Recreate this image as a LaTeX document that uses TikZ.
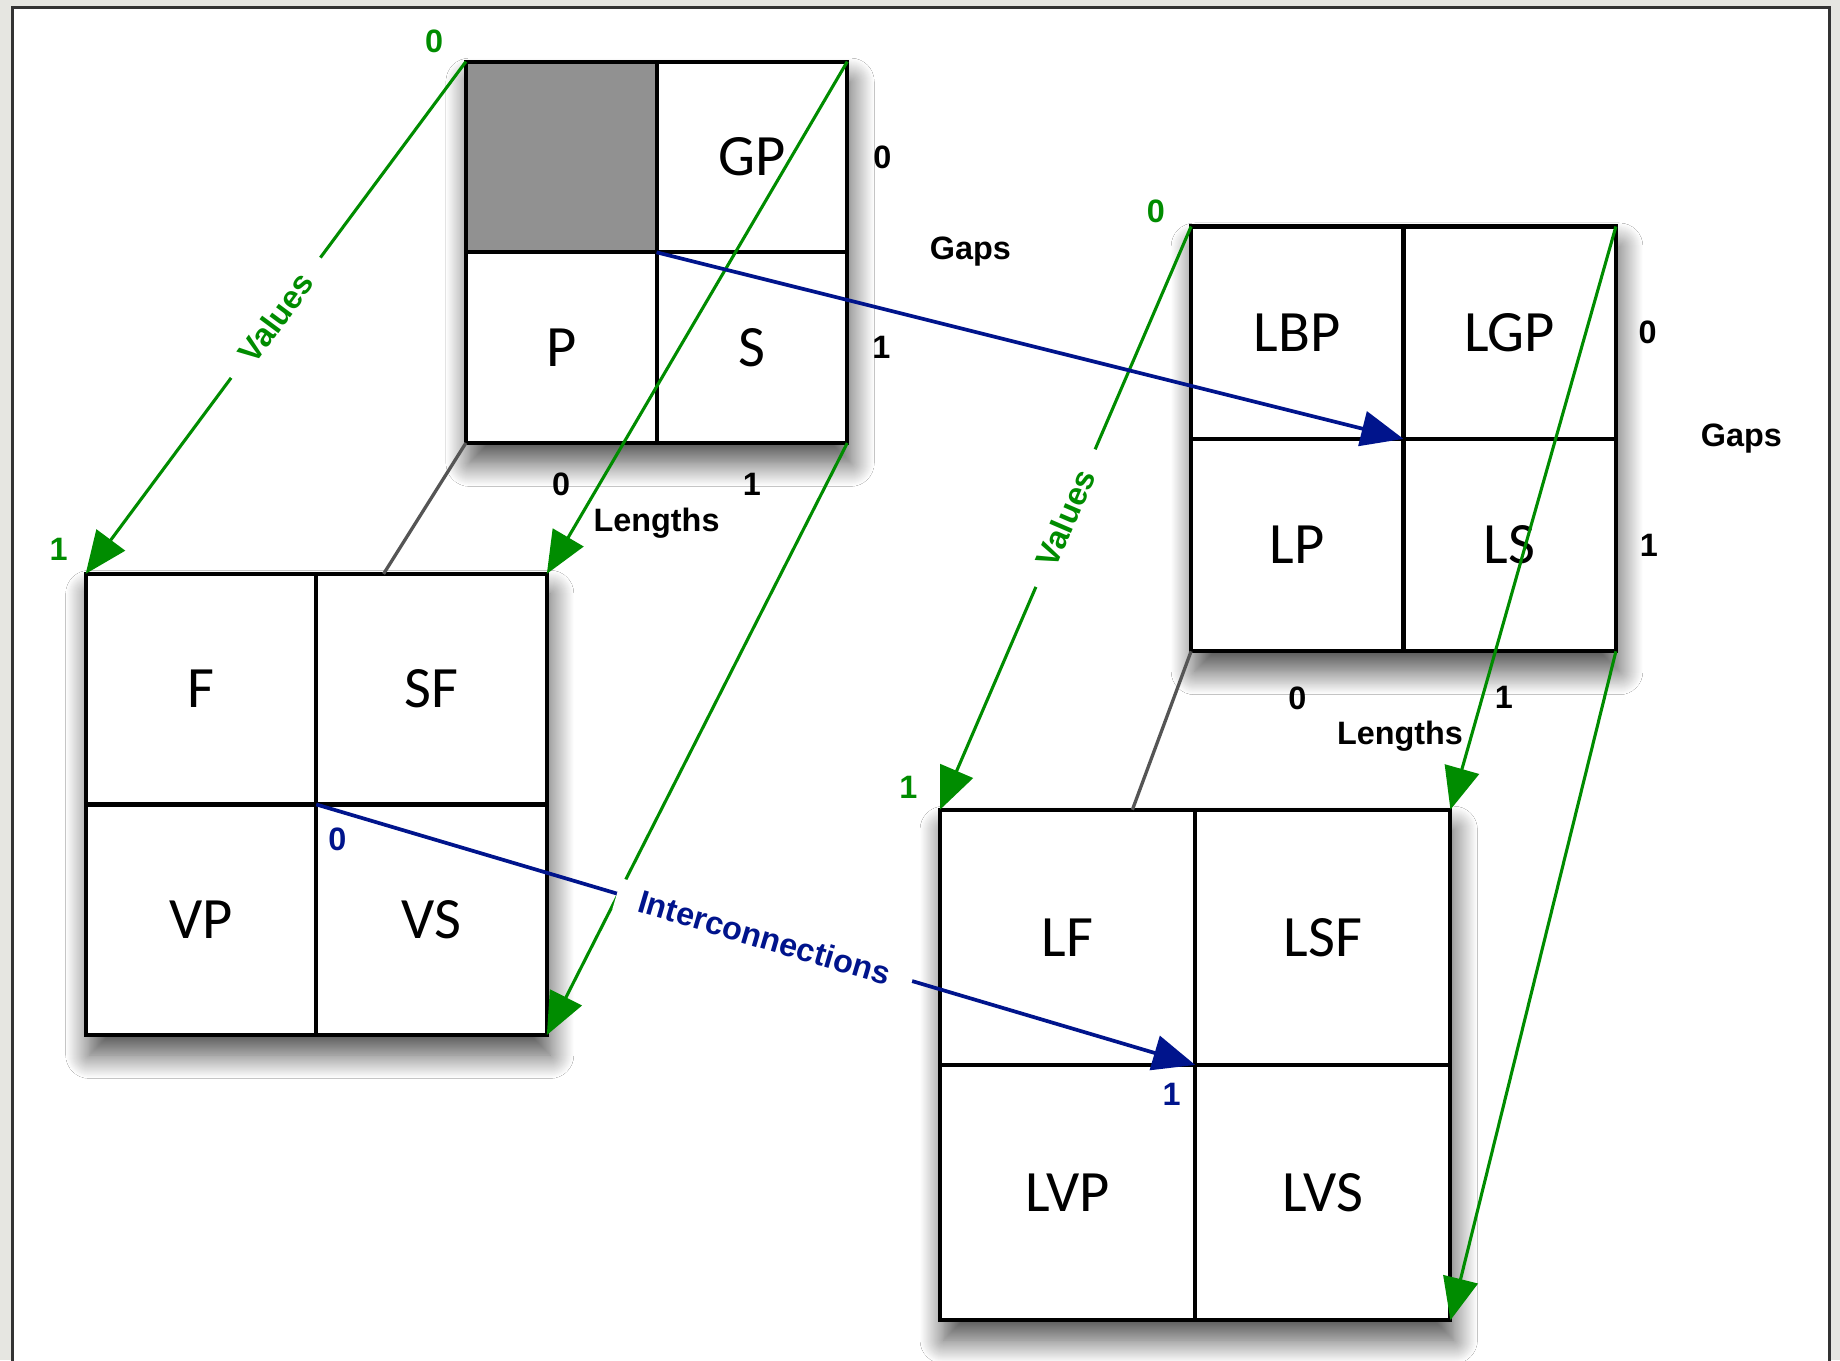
\documentclass[tikz,border=0pt]{standalone}
\usepackage{fontspec}
\setmainfont{Carlito}
\newfontfamily\tagfont{Liberation Sans}
\usetikzlibrary{
        arrows.meta,
        calc,
        positioning,
        shadows.blur
    }
\definecolor{valgreen}{RGB}{0,140,0}
\definecolor{conblue}{RGB}{0,20,140}
\definecolor{hidden}{RGB}{85,85,85}
\definecolor{paper}{RGB}{230,230,225}
\tikzset{>={Triangle[length=3.6mm,width=3mm]}}
\tikzset{
    block/.style={fill=white,inner sep=0pt,outer sep=0pt,
        blur shadow={shadow xshift=0.03cm,shadow yshift=-0.17cm,
            shadow blur radius=0.2cm,shadow blur steps=24,shadow opacity=70}},
    cell/.style={draw,line width=1pt,inner sep=0pt,outer sep=0pt,
        font=\fontsize{14.2}{16}\selectfont},
    tag/.style={font=\tagfont\bfseries\fontsize{7.85}{9}\selectfont,inner sep=1pt},
    val/.style={->,valgreen,line width=0.75pt},
    con/.style={->,conblue,line width=0.9pt},
    back/.style={hidden,line width=0.8pt},
    gaplabel/.style={tag,sloped,fill=white,inner xsep=0.2cm,inner ysep=1pt}
}

\begin{document}
\begin{tikzpicture}
            \useasboundingbox (0,0) rectangle (15.68,-11.59);
            \fill[paper] (0,0) rectangle (15.68,-11.59);
            \draw[fill=white,draw=black!80,line width=0.8pt] (0.105,-0.065) rectangle (15.59,-11.8);

            \node[block,minimum size=3.25cm] (A) at (5.595,-2.15) {};
            \node[cell,fill=black!43,minimum size=1.625cm,anchor=north west] (ab) at (A.north west) {};
            \node[cell,minimum size=1.625cm,right=0pt of ab] (agp) {GP};
            \node[cell,minimum size=1.625cm,below=0pt of ab] (ap) {P};
            \node[cell,minimum size=1.625cm,right=0pt of ap] (as) {S};

            \node[block,minimum size=3.93cm] (B) at (2.695,-6.855) {};
            \node[cell,minimum size=1.965cm,anchor=north west] (bf) at (B.north west) {F};
            \node[cell,minimum size=1.965cm,right=0pt of bf] (bsf) {SF};
            \node[cell,minimum size=1.965cm,below=0pt of bf] (bvp) {VP};
            \node[cell,minimum size=1.965cm,right=0pt of bvp] (bvs) {VS};

            \node[block,minimum size=3.62cm] (C) at (11.96,-3.74) {};
            \node[cell,minimum size=1.81cm,anchor=north west] (clbp) at (C.north west) {LBP};
            \node[cell,minimum size=1.81cm,right=0pt of clbp] (clgp) {LGP};
            \node[cell,minimum size=1.81cm,below=0pt of clbp] (clp) {LP};
            \node[cell,minimum size=1.81cm,right=0pt of clp] (cls) {LS};

            \node[block,minimum size=4.35cm] (D) at (10.185,-9.075) {};
            \node[cell,minimum size=2.175cm,anchor=north west] (dlf) at (D.north west) {LF};
            \node[cell,minimum size=2.175cm,right=0pt of dlf] (dlsf) {LSF};
            \node[cell,minimum size=2.175cm,below=0pt of dlf] (dlvp) {LVP};
            \node[cell,minimum size=2.175cm,right=0pt of dlvp] (dlvs) {LVS};

            \node[tag] (ag0) at ($(agp.east)+(0.3,0)$) {0};
            \node[tag] (ag1) at ($(as.east)+(0.29,0)$) {1};
            \node[tag] (al0) at ($(ap.south)+(0,-0.35)$) {0};
            \node[tag] (al1) at ($(as.south)+(0,-0.35)$) {1};
            \node[tag] (agaps) at ($(A.east)+(1.05,0.01)$) {Gaps};
            \node[tag] (alen) at ($(A.south)+(0,-0.68)$) {Lengths};

            \node[tag] (cg0) at ($(clgp.east)+(0.27,0)$) {0};
            \node[tag] (cg1) at ($(cls.east)+(0.28,0)$) {1};
            \node[tag] (cl0) at ($(clp.south)+(0,-0.4)$) {0};
            \node[tag] (cl1) at ($(cls.south)+(-0.05,-0.39)$) {1};
            \node[tag] (cgaps) at ($(C.east)+(1.07,0)$) {Gaps};
            \node[tag] (clen) at ($(C.south)+(-0.03,-0.72)$) {Lengths};

            \node[tag,text=valgreen] (av0) at ($(A.north west)+(-0.27,0.17)$) {0};
            \node[tag,text=valgreen] (bv1) at ($(B.north west)+(-0.23,0.21)$) {1};
            \node[tag,text=valgreen] (cv0) at ($(C.north west)+(-0.3,0.13)$) {0};
            \node[tag,text=valgreen] (dv1) at ($(D.north west)+(-0.27,0.19)$) {1};

            \path[val]
                (A.north west) edge node[gaplabel,text=valgreen] {Values} (B.north west)
                (A.north east) edge (B.north east)
                (A.south east) edge (B.south east)
                (C.north west) edge node[gaplabel,text=valgreen] {Values} (D.north west)
                (C.north east) edge (D.north east)
                (C.south east) edge (D.south east);
            \draw[back] (A.south west) -- ($(B.north west)!0.646!(B.north east)$);
            \draw[back] (C.south west) -- ($(D.north west)!0.377!(D.north east)$);

            \draw[con] (A.center) -- (C.center);
            \draw[con] (B.center) -- node[gaplabel,text=conblue,pos=0.51] {Interconnections} (D.center);
            \node[tag,text=conblue] (bi0) at ($(B.center)+(0.18,-0.3)$) {0};
            \node[tag,text=conblue] (di1) at ($(D.center)+(-0.2,-0.25)$) {1};
\end{tikzpicture}
\end{document}
